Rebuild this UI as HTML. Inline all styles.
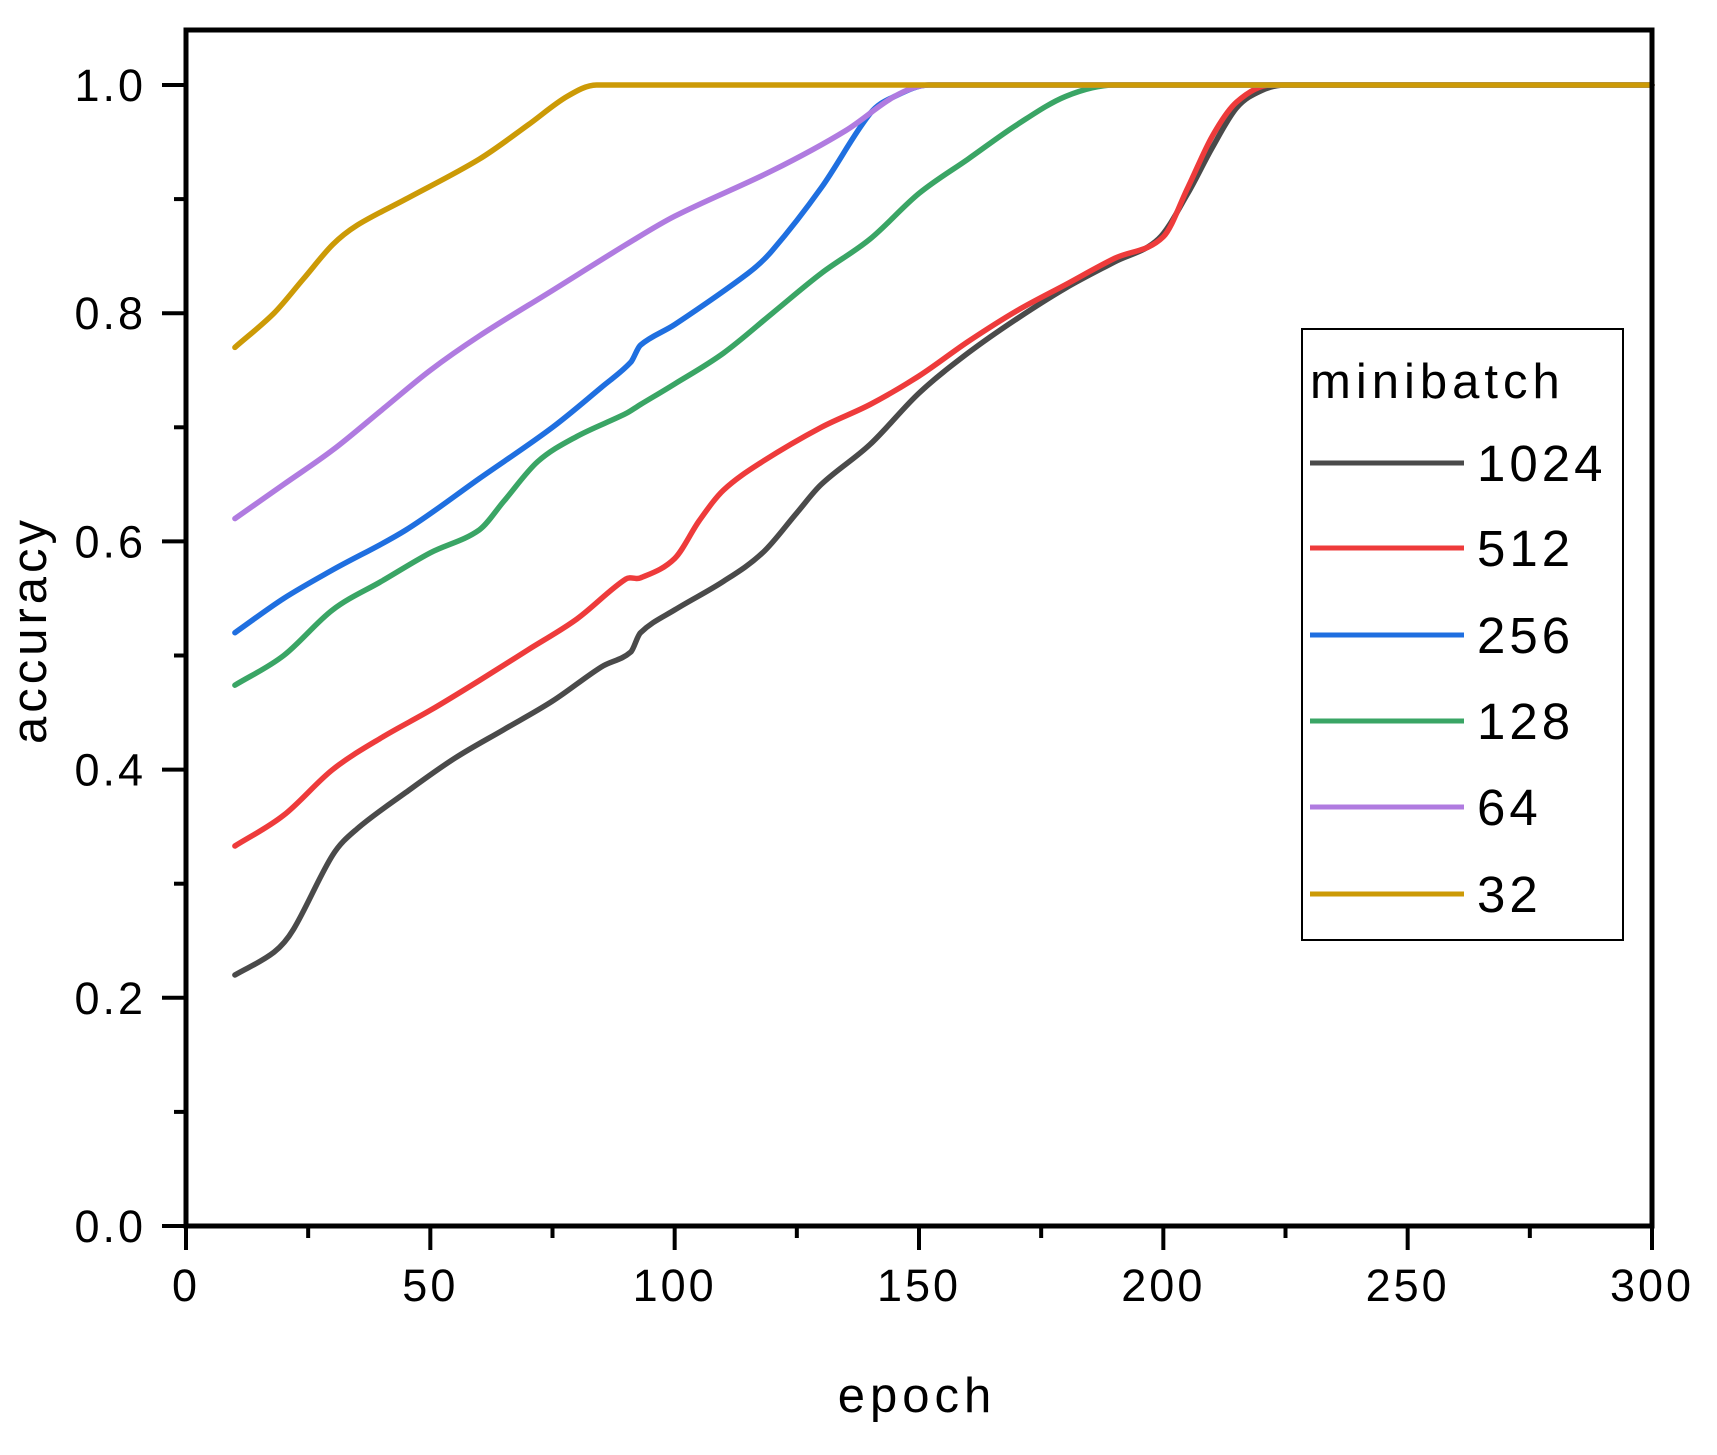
<!DOCTYPE html>
<html><head><meta charset="utf-8"><style>html,body{margin:0;padding:0;background:#fff}svg{display:block}text{font-family:"Liberation Sans",sans-serif;fill:#000}</style></head>
<body>
<svg id="s" width="1717" height="1455" xmlns="http://www.w3.org/2000/svg">
<g id="series" fill="none" stroke-width="5.5" stroke-linejoin="round" stroke-linecap="round"></g>
<rect x="186" y="30" width="1466" height="1196" fill="none" stroke="#000" stroke-width="5"/>
<g id="ticks" stroke="#000" stroke-width="4"></g>
<g id="labels" font-size="45"></g>
<text x="917" y="1412" font-size="49" text-anchor="middle" letter-spacing="5">epoch</text>
<text transform="translate(46,630) rotate(-90)" font-size="49" text-anchor="middle" letter-spacing="4">accuracy</text>
<rect x="1302" y="329" width="321" height="611" fill="#fff" stroke="#000" stroke-width="2"/>
<text x="1310" y="398" font-size="49" letter-spacing="5">minibatch</text>
<g id="legend"></g>
</svg>
<script>
var X=function(e){return 186+e*1466/300},Y=function(a){return 1226-a*1141};
var S=[
["1024","#4a4a4a",[[10,.22],[18,.24],[22,.26],[30,.325],[35,.348],[45,.38],[55,.41],[65,.435],[75,.46],[85,.49],[91,.503],[93,.52],[100,.54],[110,.565],[118,.59],[125,.625],[130,.65],[140,.685],[150,.73],[160,.765],[170,.795],[180,.822],[190,.845],[199,.865],[205,.905],[210,.945],[215,.98],[220,.995],[225,1],[300,1]]],
["512","#ee3b3b",[[10,.333],[20,.36],[30,.40],[40,.428],[50,.452],[60,.478],[70,.505],[80,.532],[90,.567],[93,.568],[100,.585],[105,.618],[110,.645],[118,.67],[130,.70],[140,.72],[150,.745],[160,.775],[170,.802],[180,.825],[190,.848],[200,.867],[205,.91],[210,.955],[215,.985],[222,1],[300,1]]],
["256","#1f6fe0",[[10,.52],[20,.55],[30,.575],[45,.61],[60,.655],[75,.70],[85,.735],[91,.757],[93,.772],[100,.79],[115,.835],[120,.855],[130,.91],[140,.975],[145,.99],[152,1],[300,1]]],
["128","#3aa565",[[10,.474],[20,.50],[30,.54],[40,.565],[50,.59],[60,.61],[65,.635],[72,.67],[80,.692],[90,.712],[93,.72],[100,.738],[110,.765],[120,.80],[130,.835],[140,.865],[150,.905],[160,.935],[170,.965],[180,.99],[190,1],[300,1]]],
["64","#b07be0",[[10,.62],[20,.65],[30,.68],[40,.715],[50,.75],[60,.78],[75,.82],[90,.86],[100,.885],[120,.925],[135,.96],[145,.99],[152,1],[300,1]]],
["32","#cc9a06",[[10,.77],[18,.80],[24,.83],[30,.86],[35,.877],[45,.90],[60,.935],[70,.965],[78,.99],[84,1],[300,1]]]];
function smooth(p){var q=p.map(function(a){return [X(a[0]),Y(a[1])]});var n=q.length,m=[];
for(var i=0;i<n;i++){
 if(p[i][1]>=1){m.push(0);continue;}
 var a=q[Math.max(i-1,0)],b=q[Math.min(i+1,n-1)];m.push((b[1]-a[1])/(b[0]-a[0]));}
var d='M'+q[0][0].toFixed(1)+','+q[0][1].toFixed(1);
for(var i=0;i<n-1;i++){var p1=q[i],p2=q[i+1],dx=(p2[0]-p1[0])/3;
var c1y=Math.max(p1[1]+m[i]*dx,Y(1)),c2y=Math.max(p2[1]-m[i+1]*dx,Y(1));
d+='C'+(p1[0]+dx).toFixed(1)+','+c1y.toFixed(1)+' '+(p2[0]-dx).toFixed(1)+','+c2y.toFixed(1)+' '+p2[0].toFixed(1)+','+p2[1].toFixed(1);}
return d;}
var g=document.getElementById('series'),L=document.getElementById('legend'),h='',l='';
var ly=[463,548,635,721,807,894];
S.forEach(function(s,i){
 h+='<path d="'+smooth(s[2])+'" stroke="'+s[1]+'"/>';
 l+='<line x1="1310" x2="1464" y1="'+ly[i]+'" y2="'+ly[i]+'" stroke="'+s[1]+'" stroke-width="5"/><text x="1477" y="'+(ly[i]+18)+'" font-size="51" letter-spacing="4">'+s[0]+'</text>';
});
g.innerHTML=h;L.innerHTML=l;
var t='',lb='';
for(var e=0;e<=300;e+=25){var x=X(e),mj=e%50==0;t+='<line x1="'+x+'" x2="'+x+'" y1="1226" y2="'+(mj?1250:1238)+'"/>';if(mj)lb+='<text x="'+x+'" y="1301" text-anchor="middle" letter-spacing="3">'+e+'</text>';}
for(var k=0;k<=10;k++){var a=k/10,y=Y(a),mj=k%2==0;t+='<line x1="186" x2="'+(mj?162:174)+'" y1="'+y+'" y2="'+y+'"/>';if(mj)lb+='<text x="146" y="'+(y+16)+'" text-anchor="end" letter-spacing="3">'+a.toFixed(1)+'</text>';}
document.getElementById('ticks').innerHTML=t;document.getElementById('labels').innerHTML=lb;
</script>
</body></html>
